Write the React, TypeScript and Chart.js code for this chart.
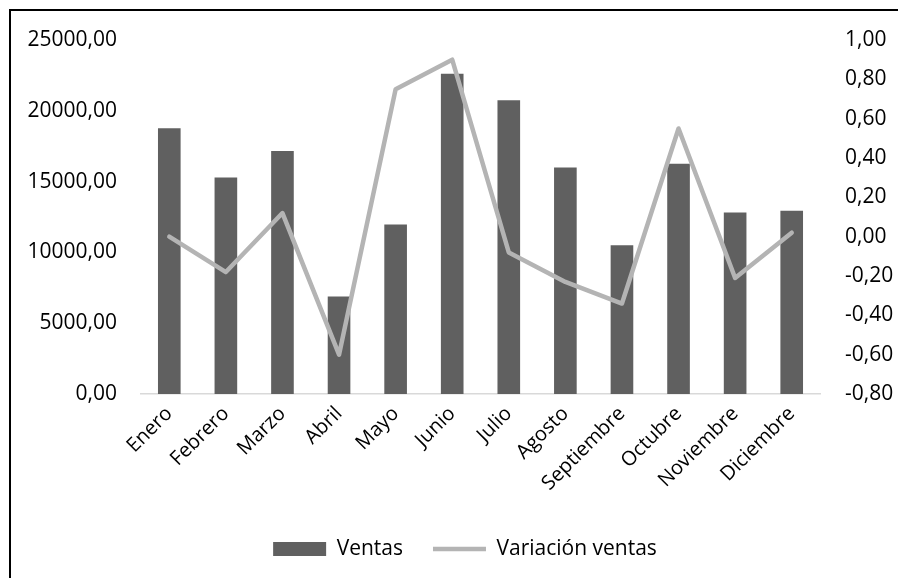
import React, { useEffect, useRef } from "react";
import { Chart, registerables } from "chart.js";

Chart.register(...registerables);

const months = [
  "Enero", "Febrero", "Marzo", "Abril", "Mayo", "Junio",
  "Julio", "Agosto", "Septiembre", "Octubre", "Noviembre", "Diciembre",
];
const ventas = [18770, 15290, 17165, 6890, 11970, 22620, 20740, 16000, 10510, 16260, 12810, 12950];
const variacion = [0.0, -0.18, 0.12, -0.6, 0.75, 0.9, -0.08, -0.23, -0.34, 0.55, -0.21, 0.02];
const leftTicks = { min: 0, max: 25000, step: 5000 };
const rightTicks = { min: -0.8, max: 1.0, step: 0.2 };

const FONT = "'Open Sans', 'Liberation Sans', sans-serif";
const fmt = (v: number) => (Math.abs(v) < 1e-9 ? 0 : v).toFixed(2).replace(".", ",");

export default function App() {
  const ref = useRef<HTMLCanvasElement | null>(null);
  useEffect(() => {
    if (!ref.current) return;
    const chart = new Chart(ref.current, {
      type: "bar",
      data: {
        labels: months,
        datasets: [
          {
            type: "bar",
            label: "Ventas",
            data: ventas,
            backgroundColor: "#606060",
            borderWidth: 0,
            barPercentage: 0.4,
            categoryPercentage: 1,
            yAxisID: "y",
            order: 1,
            pointStyle: "rect",
          } as any,
          {
            type: "line",
            label: "Variación ventas",
            data: variacion,
            borderColor: "#B4B4B4",
            backgroundColor: "#B4B4B4",
            borderWidth: 4.5,
            borderCapStyle: "round",
            borderJoinStyle: "round",
            pointRadius: 0,
            tension: 0,
            yAxisID: "y1",
            order: 0,
            pointStyle: "line",
          } as any,
        ],
      },
      options: {
        responsive: false,
        animation: false,
        devicePixelRatio: 1,
        layout: { padding: { left: 0, right: -32, top: 40, bottom: 12.5 } },
        plugins: {
          tooltip: { enabled: false },
          legend: {
            position: "bottom",
            labels: {
              usePointStyle: true,
              pointStyleWidth: 53,
              boxHeight: 14,
              padding: 30,
              color: "#000",
              font: { family: FONT, size: 21 },
              sort: (a: any, b: any) => a.datasetIndex - b.datasetIndex,
            },
          },
        },
        scales: {
          x: {
            grid: { display: false, drawTicks: false },
            border: { display: true, color: "#D9D9D9", width: 1.5 },
            ticks: {
              minRotation: 45,
              maxRotation: 45,
              padding: 8,
              color: "#000",
              font: { family: FONT, size: 20 },
            },
            afterFit: (s: any) => {
              s.height = 114.5;
            },
          },
          y: {
            position: "left",
            min: leftTicks.min,
            max: leftTicks.max,
            grid: { display: false, drawTicks: false },
            border: { display: false },
            ticks: {
              stepSize: leftTicks.step,
              padding: 24,
              color: "#000",
              font: { family: FONT, size: 21 },
              callback: (v: any) => fmt(Number(v)),
            },
            afterFit: (s: any) => {
              s.width = 141;
            },
          },
          y1: {
            position: "right",
            min: rightTicks.min,
            max: rightTicks.max,
            grid: { display: false, drawTicks: false },
            border: { display: false },
            ticks: {
              stepSize: rightTicks.step,
              padding: 25,
              color: "#000",
              font: { family: FONT, size: 21 },
              callback: (v: any) => fmt(Number(v)),
            },
            afterFit: (s: any) => {
              s.width = 110;
            },
          },
        },
      } as any,
    });
    return () => chart.destroy();
  }, []);

  return (
    <div
      style={{
        position: "fixed",
        left: 0,
        top: 0,
        width: 898,
        height: 578,
        overflow: "hidden",
        background: "#fff",
      }}
    >
      <div
        style={{
          position: "absolute",
          left: 9,
          top: 9,
          width: 2000,
          height: 2000,
          borderLeft: "2.5px solid #000",
          borderTop: "2.5px solid #000",
        }}
      />
      <canvas
        ref={ref}
        width={898}
        height={582}
        style={{ position: "absolute", left: 0, top: 0, width: 898, height: 582 }}
      />
    </div>
  );
}
